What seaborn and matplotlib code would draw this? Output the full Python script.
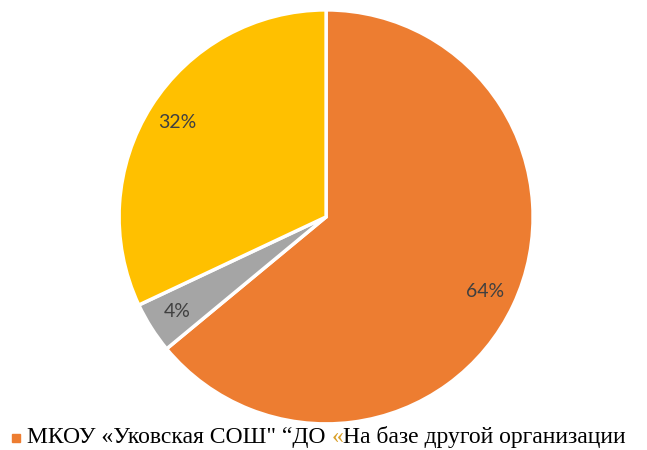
import matplotlib
matplotlib.use("Agg")
import matplotlib.pyplot as plt
import seaborn as sns
from matplotlib.patches import Rectangle

sns.set_theme(style="white")
plt.rcParams['font.family'] = ['Lato', 'DejaVu Sans']

categories = ["МКОУ «Уковская СОШ\"", "ДО", "На базе другой организации"]
values = [64, 4, 32]
colors = ["#ED7D31", "#A5A5A5", "#FFC000"]
pct_labels = ["64%", "4%", "32%"]

fig = plt.figure(figsize=(6.47, 4.5), dpi=100)
ax = fig.add_axes([0.184, 0.058, 0.64, 0.92])
wedges, texts = ax.pie(values, colors=colors, startangle=90, counterclock=False,
                       wedgeprops=dict(edgecolor="white", linewidth=2.5),
                       labels=pct_labels, labeldistance=0.85,
                       textprops=dict(color="#404040", fontsize=14, ha="center", va="center"))
ax.set_aspect("equal")
ax.set_xlim(-1.0, 1.0)
ax.set_ylim(-1.0, 1.0)
ax.axis("off")

# legend line (as in reference)
ypos = 1 - 437 / 450
fig.patches.append(Rectangle((12 / 647, 1 - 442 / 450), 8 / 647, 8 / 450,
                             transform=fig.transFigure, color=colors[0], figure=fig))
fs = 17
fam = ['Liberation Serif']
t1 = fig.text(27 / 647, ypos, "МКОУ «Уковская СОШ\" “ДО ", fontsize=fs,
              family=fam, va="center", ha="left", color="black")
fig.canvas.draw()
bb = t1.get_window_extent()
x2 = bb.x1 / fig.bbox.width
t2 = fig.text(x2, ypos, "«", fontsize=fs, family=fam, va="center",
              ha="left", color="#D9A02A")
fig.canvas.draw()
bb2 = t2.get_window_extent()
x3 = bb2.x1 / fig.bbox.width
fig.text(x3, ypos, categories[2], fontsize=fs, family=fam,
         va="center", ha="left", color="black")

fig.savefig("out.png", dpi=100)
